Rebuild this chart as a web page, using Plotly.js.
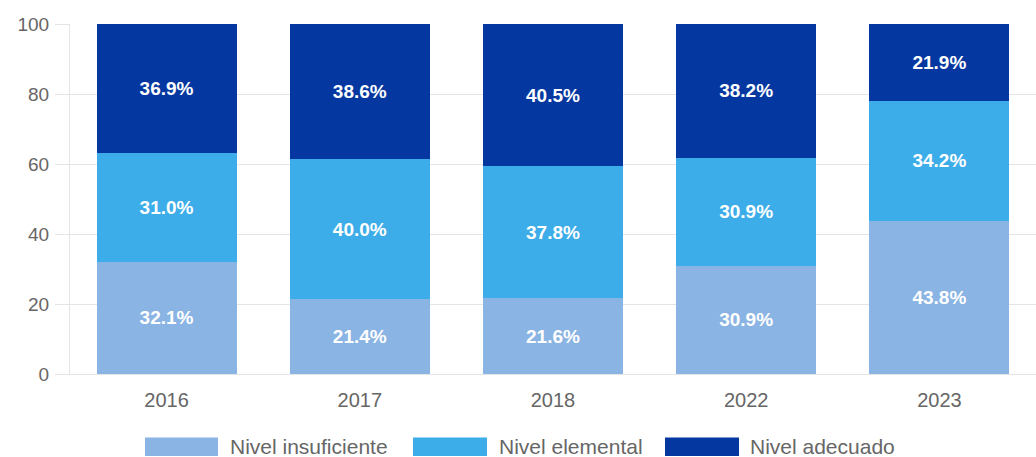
<!DOCTYPE html>
<html>
<head>
<meta charset="utf-8">
<script src="https://cdn.plot.ly/plotly-3.0.1.min.js"></script>
<style>html,body{margin:0;padding:0;background:#fff;}#chart{width:1036px;height:457px;}</style>
</head>
<body>
<div id="chart"></div>
<script>
var years = ["2016", "2017", "2018", "2022", "2023"];
var seriesNames = ["Nivel insuficiente", "Nivel elemental", "Nivel adecuado"];
var insuficiente = [32.1, 21.4, 21.6, 30.9, 43.8];
var elemental = [31.0, 40.0, 37.8, 30.9, 34.2];
var adecuado = [36.9, 38.6, 40.5, 38.2, 21.9];
var yTicks = [0, 20, 40, 60, 80, 100];
var colors = ["#8AB4E3", "#3DADE9", "#0537A0"];

var W = 1036, H = 457;
var M = {l: 70, r: 0, t: 24, b: 83};
var pw = W - M.l - M.r, ph = H - M.t - M.b;
function px(x) { return (x - M.l) / pw; }
function py(y) { return (H - M.b - y) / ph; }

var font = "Liberation Sans, Arial, Helvetica, sans-serif";
var values = [insuficiente, elemental, adecuado];
var traces = values.map(function (v, i) {
  return {
    type: "bar",
    name: seriesNames[i],
    x: years,
    y: v,
    marker: {color: colors[i], line: {width: 0}},
    text: v.map(function (d) { return d.toFixed(1) + "%"; }),
    texttemplate: "%{text}",
    textposition: "inside",
    insidetextanchor: "middle",
    textangle: 0,
    constraintext: "none",
    textfont: {family: font, size: 19, color: "#ffffff", weight: 700},
    hoverinfo: "skip",
    showlegend: false
  };
});

// custom legend (wide swatches)
var legendItems = [
  {x0: 145, x1: 218, tx: 228},
  {x0: 413, x1: 487, tx: 497},
  {x0: 665, x1: 739, tx: 748}
];
var shapes = [], annotations = [];
legendItems.forEach(function (it, i) {
  shapes.push({
    type: "rect", xref: "paper", yref: "paper",
    x0: px(it.x0), x1: px(it.x1), y0: py(456), y1: py(437.5),
    fillcolor: colors[i], line: {width: 0}
  });
  annotations.push({
    xref: "paper", yref: "paper", x: px(it.tx), y: py(446),
    xanchor: "left", yanchor: "middle", showarrow: false,
    text: seriesNames[i],
    font: {family: font, size: 21, color: "#666666"}
  });
});

var layout = {
  width: W, height: H,
  margin: M,
  barmode: "stack",
  bargap: 0.276,
  paper_bgcolor: "#ffffff",
  plot_bgcolor: "#ffffff",
  showlegend: false,
  xaxis: {
    type: "category",
    showgrid: false,
    showline: true,
    linecolor: "#e4e4e4",
    linewidth: 1,
    ticks: "",
    tickfont: {family: font, size: 20, color: "#666666"},
    ticklabelstandoff: 8,
    zeroline: false,
    fixedrange: true
  },
  yaxis: {
    range: [0, 100],
    tickvals: yTicks,
    ticktext: yTicks.map(String),
    showgrid: true,
    gridcolor: "#e4e4e4",
    gridwidth: 1,
    showline: true,
    linecolor: "#e4e4e4",
    ticks: "outside",
    ticklen: 14,
    tickcolor: "#e4e4e4",
    tickfont: {family: font, size: 19, color: "#666666"},
    ticklabelstandoff: 2,
    zeroline: false,
    fixedrange: true
  },
  shapes: shapes,
  annotations: annotations
};

Plotly.newPlot("chart", traces, layout, {displayModeBar: false, staticPlot: true});
</script>
</body>
</html>
